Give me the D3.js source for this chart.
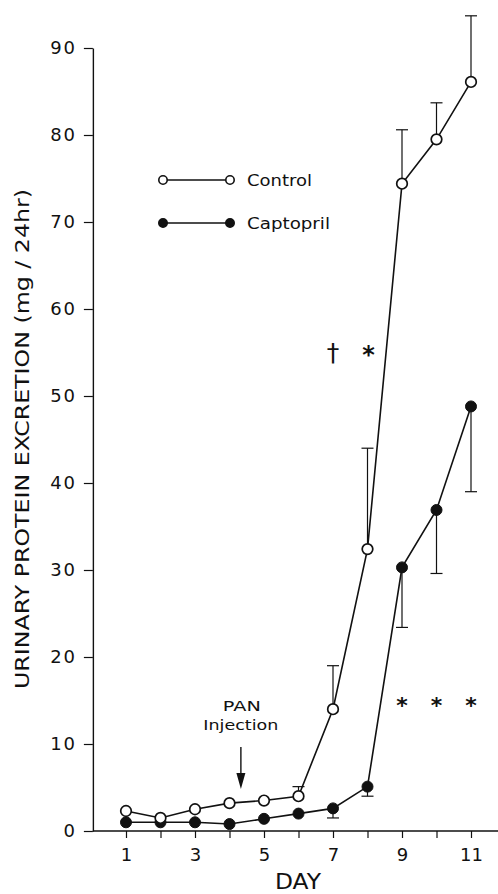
<!DOCTYPE html>
<html>
<head>
<meta charset="utf-8">
<script src="https://cdn.jsdelivr.net/npm/d3@7"></script>
<style>
  html, body { margin: 0; padding: 0; background: #fff; }
  svg { display: block; }
  text { font-family: "DejaVu Sans", "Liberation Sans", sans-serif; fill: #111; }
</style>
</head>
<body>
<svg id="chart" width="498" height="894"></svg>
<script>
// ---- data ----
const days = [1, 2, 3, 4, 5, 6, 7, 8, 9, 10, 11];
const control = [2.3, 1.5, 2.5, 3.2, 3.5, 4.0, 14.0, 32.4, 74.4, 79.5, 86.1];
const controlErr = [0, 0, 0, 0, 0, 1.1, 5.0, 11.6, 6.2, 4.2, 7.6];      // drawn upward
const captopril = [1.0, 1.0, 1.0, 0.8, 1.4, 2.0, 2.6, 5.1, 30.3, 36.9, 48.8];
const captoprilErr = [0, 0, 0, 0, 0, 0, 1.1, 1.1, 6.9, 7.3, 9.8];        // drawn downward
const yTicks = [0, 10, 20, 30, 40, 50, 60, 70, 80, 90];
const xTickLabels = ["1", "", "3", "", "5", "", "7", "", "9", "", "11"];
const seriesNames = ["Control", "Captopril"];
const daggerDays = [7];          // † marker
const starDaysUpper = [8];       // * next to †
const starDaysLower = [9, 10, 11];
const injectionDay = 4.33;

const svg = d3.select("#chart");
const ink = "#111";

const x = d3.scaleLinear().domain([1, 11]).range([126, 471]);
const y = d3.scaleLinear().domain([0, 90]).range([831, 48]);

// ---- y axis ----
const yAxis = d3.axisLeft(y).tickValues(yTicks).tickSize(9).tickSizeOuter(0).tickPadding(7).tickFormat(d3.format("d"));
const gy = svg.append("g").attr("transform", `translate(${x(0.04)},0)`).call(yAxis);
gy.select(".domain").attr("stroke", ink).attr("stroke-width", 1.4);
gy.selectAll(".tick line").attr("stroke", ink).attr("stroke-width", 1.2);
gy.selectAll(".tick text").attr("font-size", 18).attr("letter-spacing", 1.8)
  .style("font-family", '"DejaVu Sans", sans-serif').attr("fill", ink);

// ---- x axis ----
const xAxis = d3.axisBottom(x).tickValues(days).tickSize(7).tickSizeOuter(0).tickPadding(10)
  .tickFormat((d, i) => xTickLabels[i]);
const gx = svg.append("g").attr("transform", `translate(0,${y(0)})`).call(xAxis);
gx.select(".domain").remove();
gx.append("line").attr("x1", x(0.04)).attr("x2", x(11.8)).attr("y1", 0).attr("y2", 0)
  .attr("stroke", ink).attr("stroke-width", 1.4);
gx.selectAll(".tick line").attr("stroke", ink).attr("stroke-width", 1.2);
gx.selectAll(".tick text").attr("font-size", 18).style("font-family", '"DejaVu Sans", sans-serif').attr("fill", ink);

// axis titles
svg.append("text").attr("x", 298).attr("y", 889).attr("text-anchor", "middle")
  .attr("font-size", 22).attr("textLength", 46).attr("lengthAdjust", "spacingAndGlyphs").text("DAY");
svg.append("text")
  .attr("transform", `translate(29,439) rotate(-90)`)
  .attr("text-anchor", "middle").attr("font-size", 20)
  .attr("textLength", 500).attr("lengthAdjust", "spacingAndGlyphs")
  .text("URINARY PROTEIN EXCRETION (mg / 24hr)");

// ---- error bars ----
const cap = 6;
function errBars(vals, errs, dir) {
  const g = svg.append("g").attr("stroke", ink).attr("stroke-width", 1.2);
  days.forEach((d, i) => {
    if (!errs[i]) return;
    const y0 = y(vals[i]), y1 = y(vals[i] + dir * errs[i]);
    g.append("line").attr("x1", x(d)).attr("x2", x(d)).attr("y1", y0).attr("y2", y1);
    g.append("line").attr("x1", x(d) - cap).attr("x2", x(d) + cap).attr("y1", y1).attr("y2", y1);
  });
}
errBars(control, controlErr, 1);
errBars(captopril, captoprilErr, -1);

// ---- lines ----
const line = d3.line().x((d, i) => x(days[i])).y(d => y(d));
svg.append("path").datum(captopril).attr("d", line).attr("fill", "none").attr("stroke", ink).attr("stroke-width", 1.6);
svg.append("path").datum(control).attr("d", line).attr("fill", "none").attr("stroke", ink).attr("stroke-width", 1.6);

// ---- markers ----
svg.append("g").selectAll("circle").data(captopril).join("circle")
  .attr("cx", (d, i) => x(days[i])).attr("cy", d => y(d)).attr("r", 5.5)
  .attr("fill", ink).attr("stroke", ink).attr("stroke-width", 1);
svg.append("g").selectAll("circle").data(control).join("circle")
  .attr("cx", (d, i) => x(days[i])).attr("cy", d => y(d)).attr("r", 5.3)
  .attr("fill", "#fff").attr("stroke", ink).attr("stroke-width", 1.7);

// ---- legend ----
const legend = svg.append("g");
[[180, false], [223, true]].forEach(([ly, filled], k) => {
  legend.append("line").attr("x1", 163).attr("x2", 230).attr("y1", ly).attr("y2", ly)
    .attr("stroke", ink).attr("stroke-width", 1.3);
  [163, 230].forEach(cx => legend.append("circle").attr("cx", cx).attr("cy", ly).attr("r", 4.2)
    .attr("fill", filled ? ink : "#fff").attr("stroke", ink).attr("stroke-width", 1.6));
  legend.append("text").attr("x", 247).attr("y", ly + 6).attr("font-size", 16)
    .attr("textLength", k === 0 ? 65 : 83).attr("lengthAdjust", "spacingAndGlyphs")
    .text(seriesNames[k]);
});

// ---- significance marks ----
daggerDays.forEach(d => svg.append("text").attr("x", x(d)).attr("y", 361).attr("text-anchor", "middle")
  .attr("font-size", 25).text("†"));
starDaysUpper.forEach(d => svg.append("text").attr("x", x(d) + 1).attr("y", 363).attr("text-anchor", "middle")
  .attr("font-size", 24).attr("font-weight", "bold").text("*"));
starDaysLower.forEach(d => svg.append("text").attr("x", x(d)).attr("y", 713).attr("text-anchor", "middle")
  .attr("font-size", 22).attr("font-weight", "bold").text("*"));

// ---- PAN injection annotation ----
const ax = x(injectionDay);
svg.append("text").attr("x", ax + 1).attr("y", 711).attr("text-anchor", "middle").attr("font-size", 14.5)
  .attr("textLength", 38).attr("lengthAdjust", "spacingAndGlyphs").text("PAN");
svg.append("text").attr("x", ax).attr("y", 730).attr("text-anchor", "middle").attr("font-size", 14.5)
  .attr("textLength", 75).attr("lengthAdjust", "spacingAndGlyphs").text("Injection");
svg.append("line").attr("x1", ax).attr("x2", ax).attr("y1", 747).attr("y2", 776)
  .attr("stroke", ink).attr("stroke-width", 1.4);
svg.append("path").attr("d", `M${ax - 4.5},${773} L${ax + 4.5},${773} L${ax},${789} Z`).attr("fill", ink);
</script>
</body>
</html>
